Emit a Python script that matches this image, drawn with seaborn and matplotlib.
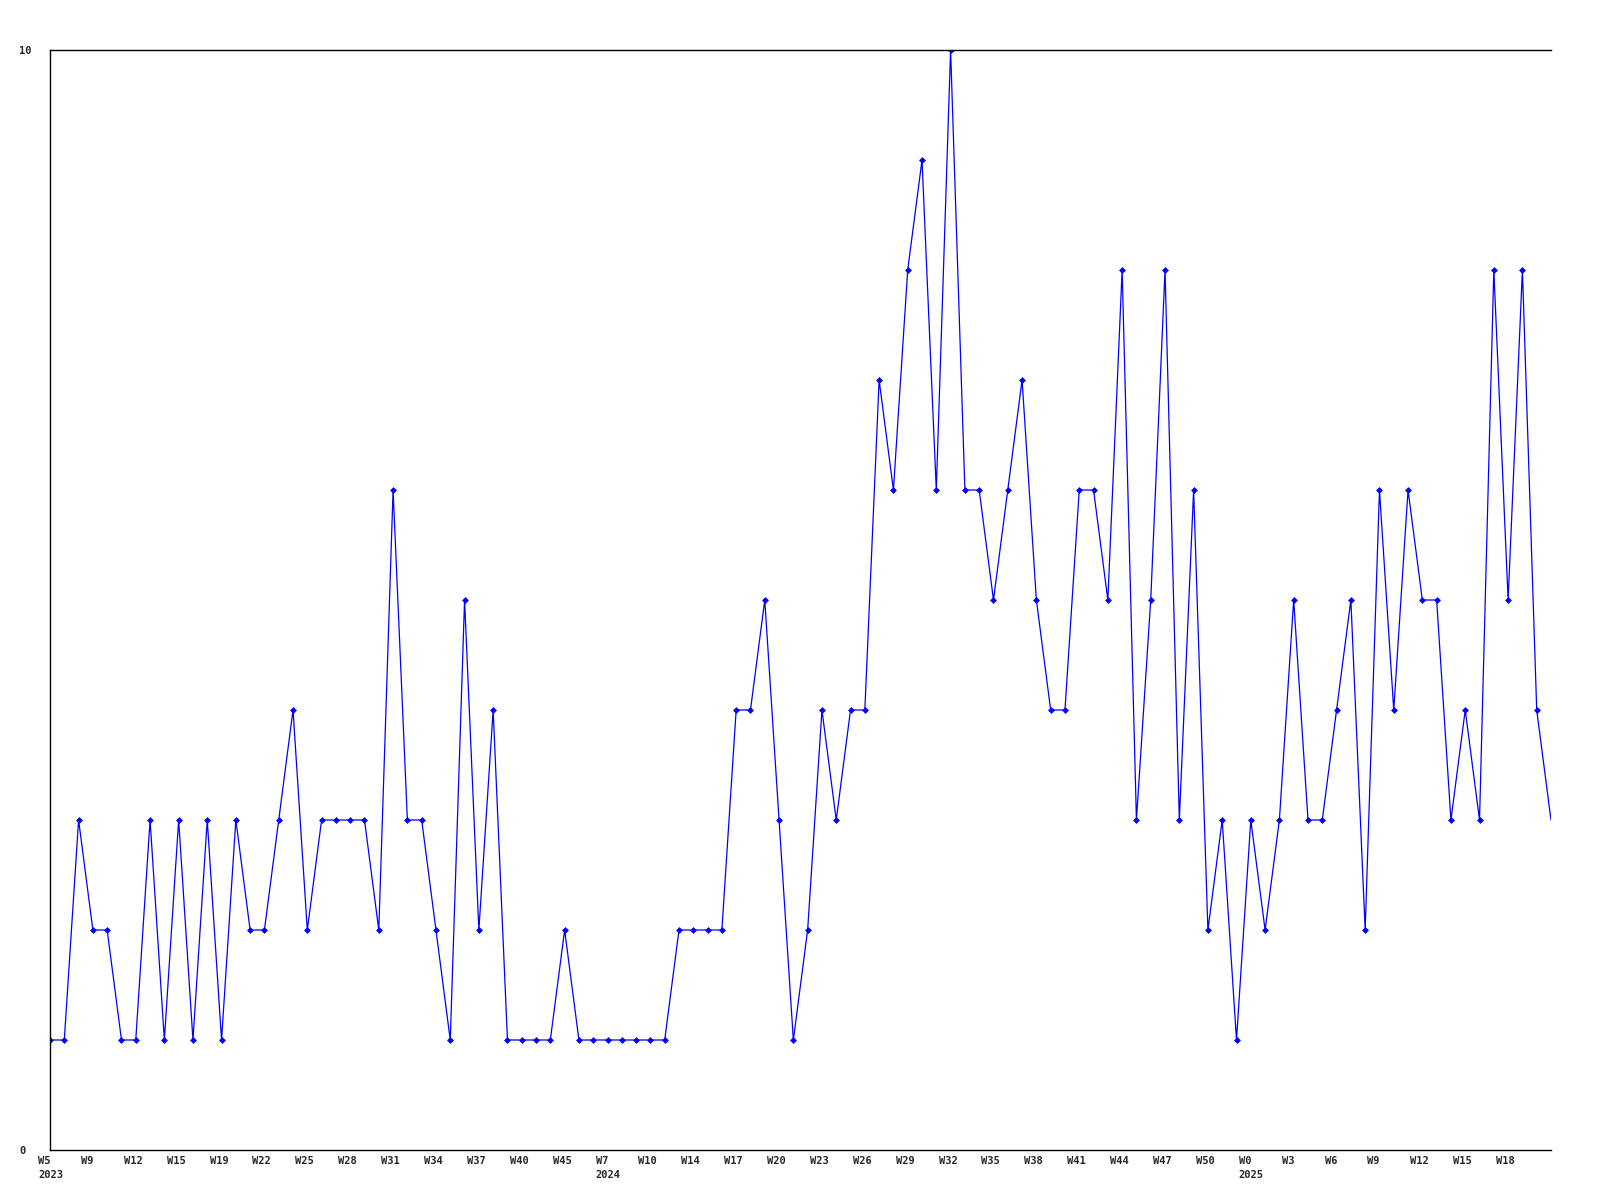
import matplotlib
matplotlib.use("Agg")
import matplotlib.pyplot as plt
import matplotlib.transforms as mtransforms
import pandas as pd
import seaborn as sns

# weekly counts, one value per plotted week
values = [1, 1, 3, 2, 2, 1, 1, 3, 1, 3, 1, 3, 1, 3, 2, 2, 3, 4, 2, 3,
          3, 3, 3, 2, 6, 3, 3, 2, 1, 5, 2, 4, 1, 1, 1, 1, 2, 1, 1, 1,
          1, 1, 1, 1, 2, 2, 2, 2, 4, 4, 5, 3, 1, 2, 4, 3, 4, 4, 7, 6,
          8, 9, 6, 10, 6, 6, 5, 6, 7, 5, 4, 4, 6, 6, 5, 8, 3, 5, 8, 3,
          6, 2, 3, 1, 3, 2, 3, 5, 3, 3, 4, 5, 2, 6, 4, 6, 5, 5, 3, 4,
          3, 8, 5, 8, 4, 3]

# labels shown on every third week
week_labels = ["W5", "W9", "W12", "W15", "W19", "W22", "W25", "W28", "W31", "W34",
               "W37", "W40", "W45", "W7", "W10", "W14", "W17", "W20", "W23", "W26",
               "W29", "W32", "W35", "W38", "W41", "W44", "W47", "W50", "W0", "W3",
               "W6", "W9", "W12", "W15", "W18"]
year_labels = {0: "2023", 13: "2024", 28: "2025"}

df = pd.DataFrame({"idx": range(len(values)), "count": values})

sns.set_style("white")
plt.rcParams["font.family"] = ["DejaVu Sans Mono", "DejaVu Sans"]

fig = plt.figure(figsize=(16, 12), dpi=100)
ax = fig.add_axes([50 / 1600, 50 / 1200, 1501 / 1600, 1100 / 1200])

sns.lineplot(data=df, x="idx", y="count", ax=ax, color="#0000ff", linewidth=0.9,
             marker="D", markersize=3, markeredgewidth=0.5, markeredgecolor="#0000ff",
             markevery=list(range(len(values) - 1)))

ax.set_xlim(0, len(values) - 1)
ax.set_ylim(0, 10)
ax.set_xlabel("")
ax.set_ylabel("")

ax.tick_params(axis="y", length=0, pad=22)
ax.tick_params(axis="x", length=0, pad=4)

# x ticks every third week, with the year under the first week of each year
ticks = list(range(0, 3 * len(week_labels), 3))
labels = []
for i, w in enumerate(week_labels):
    labels.append(w + "\n" + year_labels[i] if i in year_labels else w)
ax.set_xticks(ticks)
ax.set_xticklabels(labels, ha="left", fontsize=7.5, fontweight="bold", linespacing=1.55)
# labels start a little left of their week
shift = mtransforms.ScaledTranslation(-12 / 100, 0, fig.dpi_scale_trans)
for lab in ax.get_xticklabels():
    lab.set_transform(lab.get_transform() + shift)

ax.set_yticks([0, 10])
ax.set_yticklabels(["0", "10"], ha="left", fontsize=7.5, fontweight="bold")

for side in ["left", "bottom", "top"]:
    ax.spines[side].set_color("black")
    ax.spines[side].set_linewidth(1)
ax.spines["right"].set_visible(False)

fig.savefig("out.png", dpi=100)
